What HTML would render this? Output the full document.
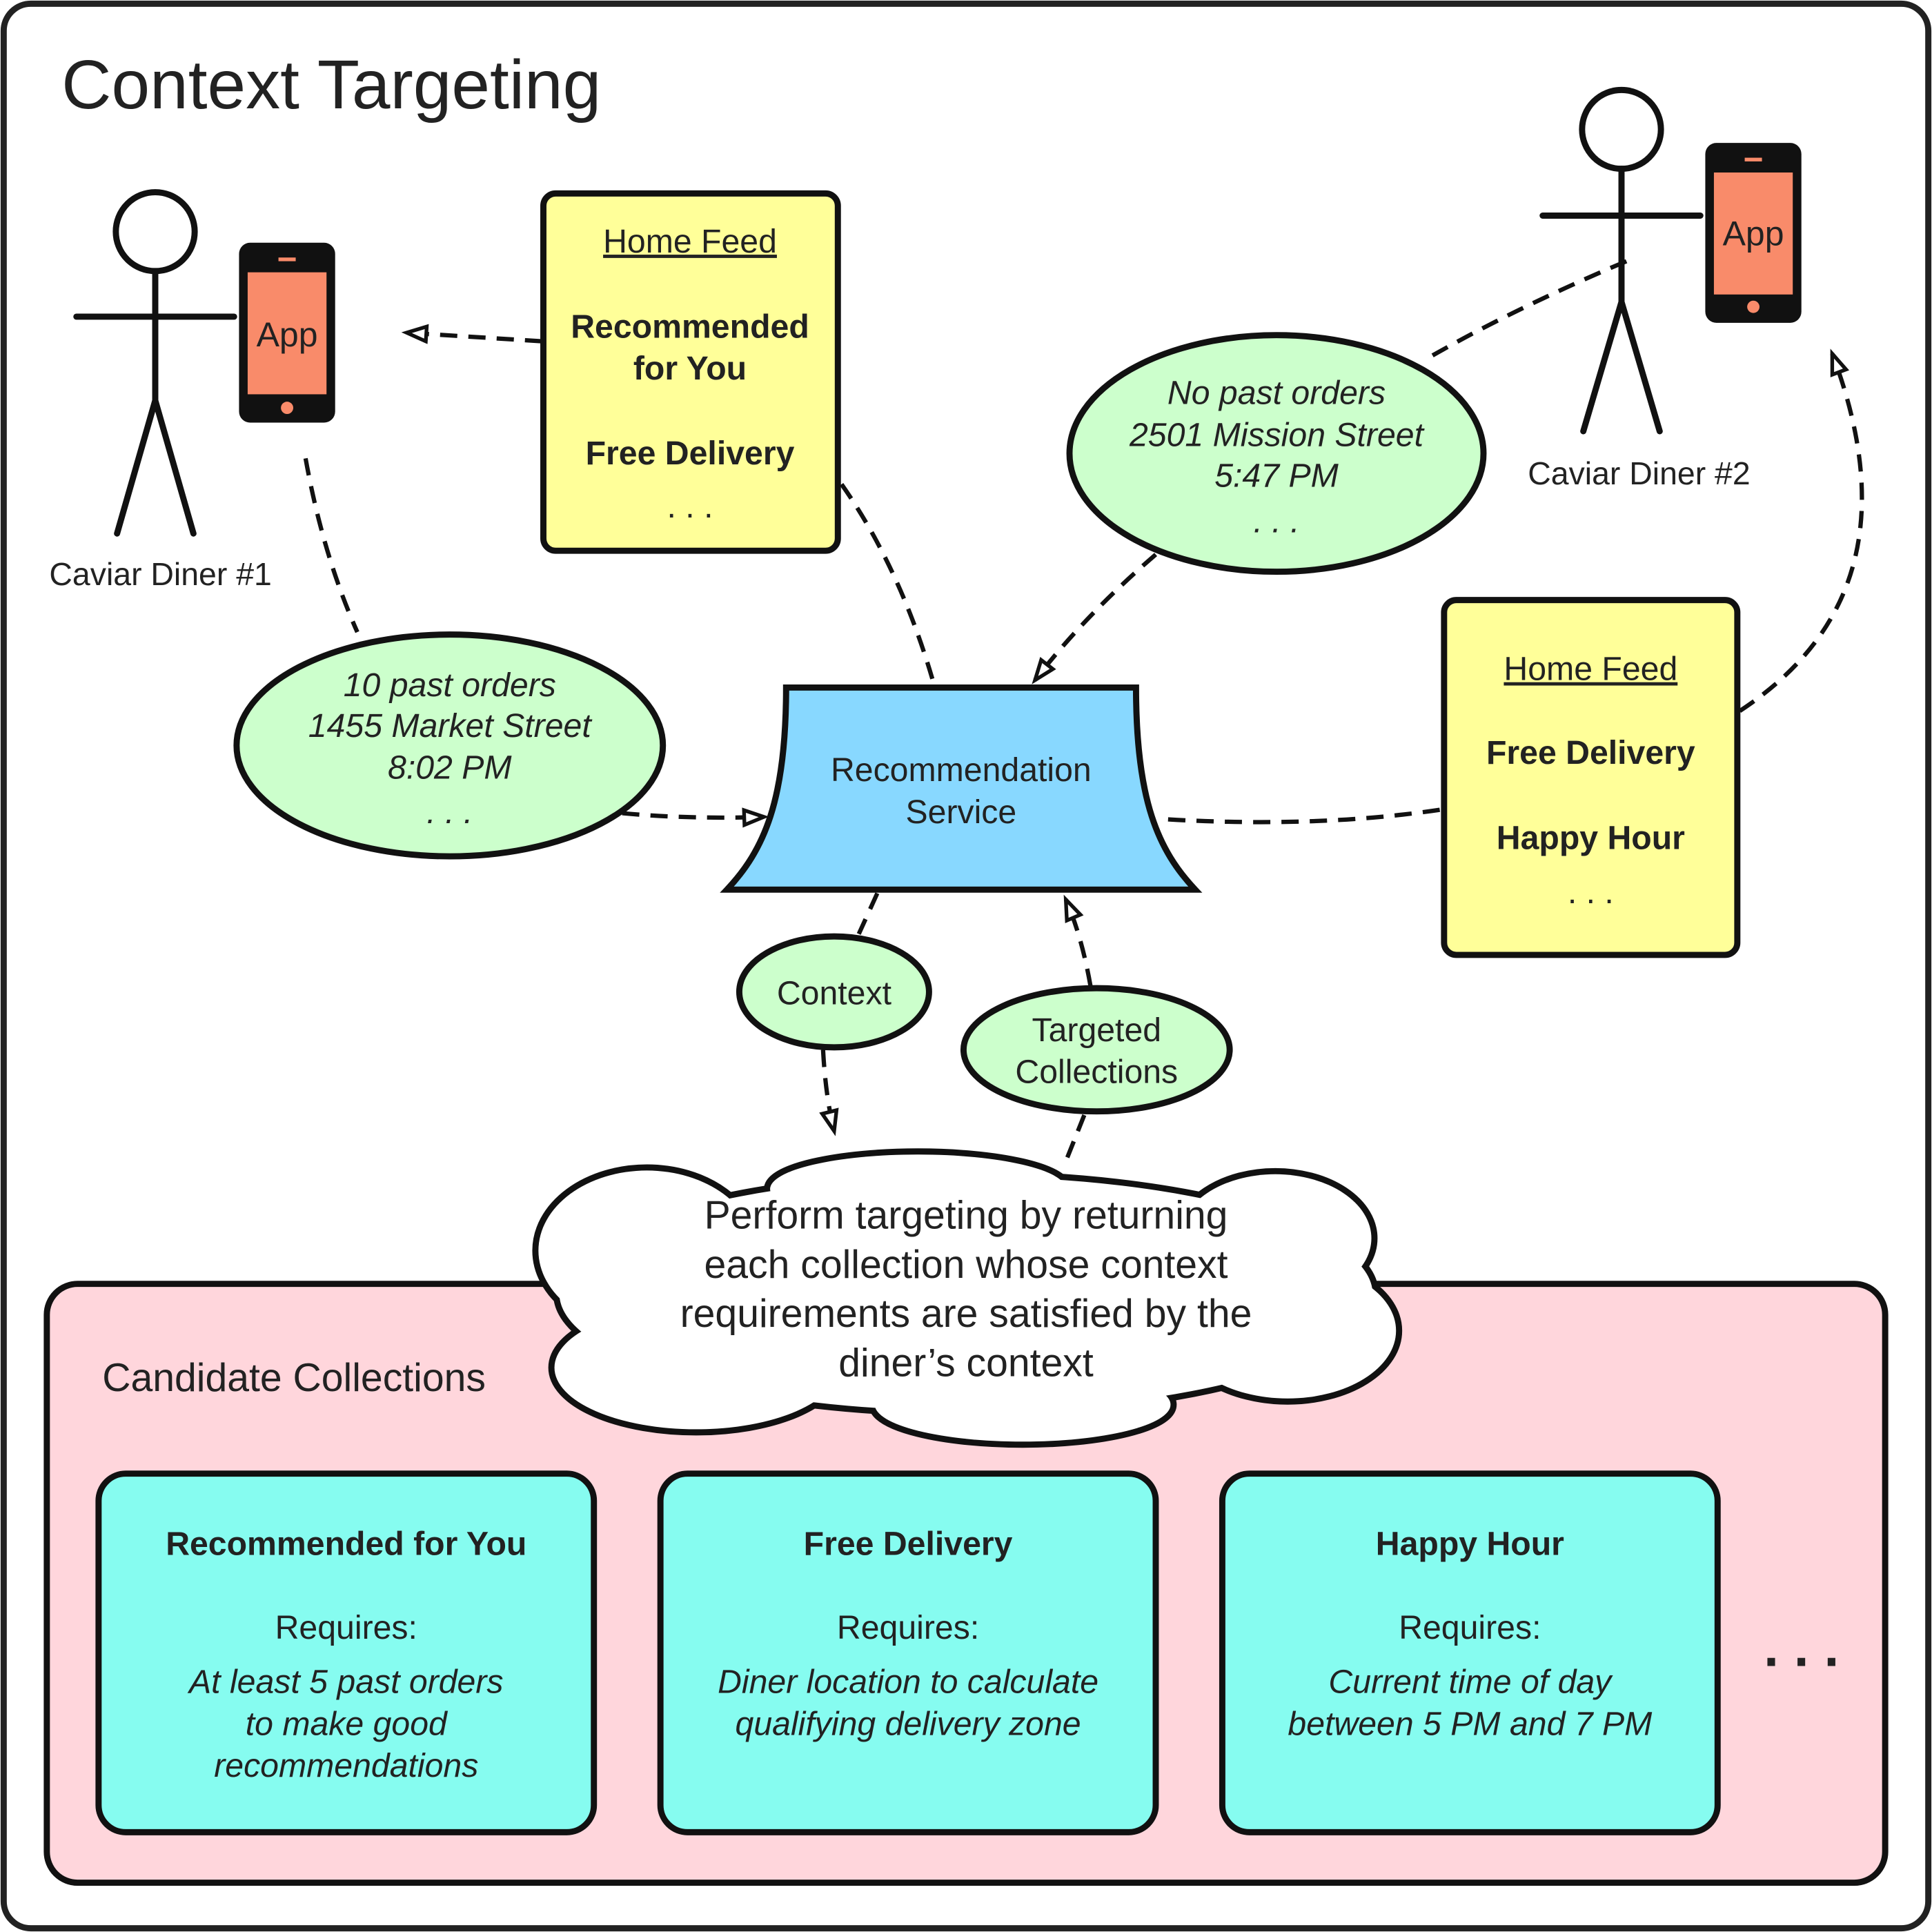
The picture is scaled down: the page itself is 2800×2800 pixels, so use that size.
<!DOCTYPE html>
<html><head><meta charset="utf-8"><style>
html,body{margin:0;padding:0;background:#fff}
svg{display:block}
text{font-family:"Liberation Sans",sans-serif;fill:#222}
</style></head><body>
<svg width="2800" height="2800" viewBox="0 0 1568 1568" xmlns="http://www.w3.org/2000/svg">
<defs>
<marker id="ar" viewBox="0 0 18 14" refX="17" refY="7" markerWidth="18" markerHeight="14" orient="auto" markerUnits="userSpaceOnUse" style="overflow:visible">
<path d="M1,1 L17,7 L1,13 Z" fill="#fff" stroke="#111" stroke-width="3"/>
</marker>
</defs>
<rect x="3" y="3" width="1562" height="1562" rx="22" fill="#fff" stroke="#222" stroke-width="5"/>
<text x="50" y="88" font-size="56">Context Targeting</text>

<rect x="38" y="1042" width="1492" height="486" rx="25" fill="#FFD6DC" stroke="#111" stroke-width="5"/>
<text x="83" y="1129" font-size="32">Candidate Collections</text>

<g stroke="#111" stroke-width="5" fill="#86FCF0">
<rect x="80" y="1196" width="402" height="291" rx="22"/>
<rect x="536" y="1196" width="402" height="291" rx="22"/>
<rect x="992" y="1196" width="402" height="291" rx="22"/>
</g>
<g font-size="27" text-anchor="middle">
<text x="281" y="1262" font-weight="bold">Recommended for You</text>
<text x="281" y="1330">Requires:</text>
<text x="281" y="1374" font-style="italic">At least 5 past orders</text>
<text x="281" y="1408" font-style="italic">to make good</text>
<text x="281" y="1442" font-style="italic">recommendations</text>
<text x="737" y="1262" font-weight="bold">Free Delivery</text>
<text x="737" y="1330">Requires:</text>
<text x="737" y="1374" font-style="italic">Diner location to calculate</text>
<text x="737" y="1408" font-style="italic">qualifying delivery zone</text>
<text x="1193" y="1262" font-weight="bold">Happy Hour</text>
<text x="1193" y="1330">Requires:</text>
<text x="1193" y="1374" font-style="italic">Current time of day</text>
<text x="1193" y="1408" font-style="italic">between 5 PM and 7 PM</text>
</g>
<text x="1462" y="1352" font-size="44" text-anchor="middle" font-weight="bold">. . .</text>

<g stroke="#111" stroke-width="10" fill="#fff">
<ellipse cx="784" cy="1050" rx="330" ry="95"/>
<ellipse cx="745" cy="965" rx="120" ry="28"/>
<ellipse cx="525" cy="1015" rx="88" ry="65"/>
<ellipse cx="1035" cy="1005" rx="78" ry="52"/>
<ellipse cx="565" cy="1110" rx="115" ry="50"/>
<ellipse cx="830" cy="1140" rx="120" ry="30"/>
<ellipse cx="1045" cy="1080" rx="88" ry="55"/>
</g>
<g fill="#fff">
<ellipse cx="784" cy="1050" rx="330" ry="95"/>
<ellipse cx="745" cy="965" rx="120" ry="28"/>
<ellipse cx="525" cy="1015" rx="88" ry="65"/>
<ellipse cx="1035" cy="1005" rx="78" ry="52"/>
<ellipse cx="565" cy="1110" rx="115" ry="50"/>
<ellipse cx="830" cy="1140" rx="120" ry="30"/>
<ellipse cx="1045" cy="1080" rx="88" ry="55"/>
</g>
<g font-size="32" text-anchor="middle">
<text x="784" y="997">Perform targeting by returning</text>
<text x="784" y="1037">each collection whose context</text>
<text x="784" y="1077">requirements are satisfied by the</text>
<text x="784" y="1117">diner’s context</text>
</g>

<g fill="none" stroke="#111" stroke-width="3.5" stroke-dasharray="14,9">
<path d="M440,277 L330,270" marker-end="url(#ar)"/>
<path d="M683,393 Q730,460 757,552"/>
<path d="M248,372 Q262,450 290,513"/>
<path d="M505,660 Q560,665 620,663" marker-end="url(#ar)"/>
<path d="M1320,212 Q1230,250 1160,290"/>
<path d="M938,450 Q880,500 840,552" marker-end="url(#ar)"/>
<path d="M948,665 Q1070,672 1170,657"/>
<path d="M1412,577 Q1560,480 1487,287" marker-end="url(#ar)"/>
<path d="M712,725 L697,758"/>
<path d="M668,852 Q670,890 677,918" marker-end="url(#ar)"/>
<path d="M885,800 Q878,760 865,730" marker-end="url(#ar)"/>
<path d="M880,905 L866,940"/>
</g>

<g fill="none" stroke="#111" stroke-width="5" stroke-linecap="round">
<circle cx="126" cy="188" r="32" fill="#fff"/>
<path d="M126,220 L126,325 M62,257 L190,257 M126,325 L95,433 M126,325 L157,433"/>
<circle cx="1316" cy="105" r="32" fill="#fff"/>
<path d="M1316,137 L1316,245 M1252,175 L1380,175 M1316,245 L1285,350 M1316,245 L1347,350"/>
</g>
<text x="40" y="475" font-size="26">Caviar Diner #1</text>
<text x="1240" y="393" font-size="26">Caviar Diner #2</text>

<g>
<rect x="194" y="197" width="78" height="146" rx="9" fill="#111"/>
<rect x="201" y="221" width="64" height="99" fill="#F98B6A"/>
<rect x="226" y="209" width="14" height="3" fill="#F98B6A"/>
<circle cx="233" cy="331" r="5" fill="#F98B6A"/>
<text x="233" y="281" font-size="28" text-anchor="middle">App</text>
<rect x="1384" y="116" width="78" height="146" rx="9" fill="#111"/>
<rect x="1391" y="140" width="64" height="99" fill="#F98B6A"/>
<rect x="1416" y="128" width="14" height="3" fill="#F98B6A"/>
<circle cx="1423" cy="249" r="5" fill="#F98B6A"/>
<text x="1423" y="199" font-size="28" text-anchor="middle">App</text>
</g>

<rect x="441" y="157" width="239" height="290" rx="10" fill="#FFFF99" stroke="#111" stroke-width="5"/>
<g font-size="27" text-anchor="middle">
<text x="560" y="205" text-decoration="underline">Home Feed</text>
<text x="560" y="274" font-weight="bold">Recommended</text>
<text x="560" y="308" font-weight="bold">for You</text>
<text x="560" y="377" font-weight="bold">Free Delivery</text>
<text x="560" y="420">. . .</text>
</g>
<rect x="1172" y="487" width="238" height="288" rx="10" fill="#FFFF99" stroke="#111" stroke-width="5"/>
<g font-size="27" text-anchor="middle">
<text x="1291" y="552" text-decoration="underline">Home Feed</text>
<text x="1291" y="620" font-weight="bold">Free Delivery</text>
<text x="1291" y="689" font-weight="bold">Happy Hour</text>
<text x="1291" y="733">. . .</text>
</g>

<ellipse cx="1036" cy="368" rx="168" ry="96" fill="#CCFFCC" stroke="#111" stroke-width="5"/>
<g font-size="27" text-anchor="middle" font-style="italic">
<text x="1036" y="328">No past orders</text>
<text x="1036" y="362">2501 Mission Street</text>
<text x="1036" y="395">5:47 PM</text>
<text x="1036" y="432">. . .</text>
</g>
<ellipse cx="365" cy="605" rx="173" ry="90" fill="#CCFFCC" stroke="#111" stroke-width="5"/>
<g font-size="27" text-anchor="middle" font-style="italic">
<text x="365" y="565">10 past orders</text>
<text x="365" y="598">1455 Market Street</text>
<text x="365" y="632">8:02 PM</text>
<text x="365" y="668">. . .</text>
</g>

<path d="M638,558 L922,558 C922,650 940,690 970,722 L590,722 C620,690 638,650 638,558 Z" fill="#88D8FF" stroke="#111" stroke-width="5"/>
<text x="780" y="634" font-size="27" text-anchor="middle">Recommendation</text>
<text x="780" y="668" font-size="27" text-anchor="middle">Service</text>

<ellipse cx="677" cy="805" rx="77" ry="45" fill="#CCFFCC" stroke="#111" stroke-width="5"/>
<text x="677" y="815" font-size="27" text-anchor="middle">Context</text>
<ellipse cx="890" cy="852" rx="108" ry="50" fill="#CCFFCC" stroke="#111" stroke-width="5"/>
<text x="890" y="845" font-size="27" text-anchor="middle">Targeted</text>
<text x="890" y="879" font-size="27" text-anchor="middle">Collections</text>
</svg>
</body></html>
